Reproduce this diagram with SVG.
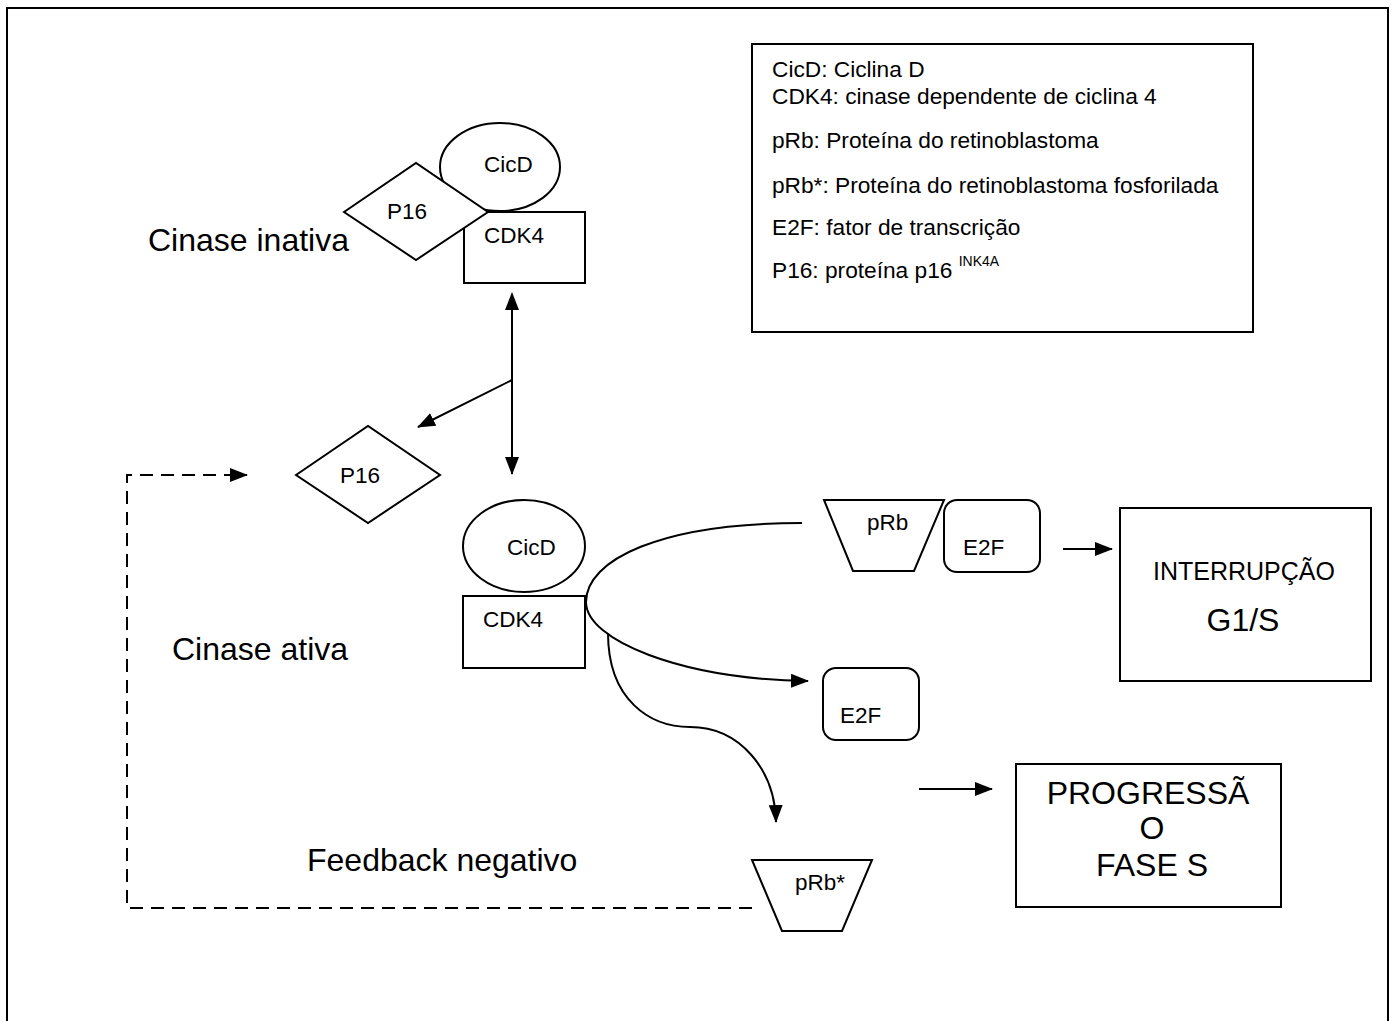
<svg xmlns="http://www.w3.org/2000/svg" width="1395" height="1021" viewBox="0 0 1395 1021">
<defs>
<marker id="ah" markerWidth="18" markerHeight="14" refX="17" refY="7" orient="auto" markerUnits="userSpaceOnUse">
<path d="M0,0 L18,7 L0,14 Z" fill="#000"/>
</marker>
<marker id="ahs" markerWidth="18" markerHeight="14" refX="1" refY="7" orient="auto-start-reverse" markerUnits="userSpaceOnUse">
<path d="M0,0 L18,7 L0,14 Z" fill="#000"/>
</marker>
</defs>
<style>
.s{fill:#fff;stroke:#000;stroke-width:2}
.t{font-family:"Liberation Sans",Arial,sans-serif;font-size:22.5px;fill:#000}
.lg{font-family:"Liberation Sans",Arial,sans-serif;font-size:22.7px;fill:#000}
.big{font-family:"Liberation Sans",Arial,sans-serif;font-size:32px;fill:#000}
.c{fill:none;stroke:#000;stroke-width:2}
</style>
<rect x="0" y="0" width="1395" height="1021" fill="#fff"/>
<rect x="7" y="8" width="1381" height="1040" fill="none" stroke="#000" stroke-width="2"/>

<g id="legend">
<rect class="s" x="752" y="44" width="501" height="288"/>
<text class="lg" x="772" y="77">CicD: Ciclina D</text>
<text class="lg" x="772" y="104">CDK4: cinase dependente de ciclina 4</text>
<text class="lg" x="772" y="148">pRb: Proteína do retinoblastoma</text>
<text class="lg" x="772" y="193">pRb*: Proteína do retinoblastoma fosforilada</text>
<text class="lg" x="772" y="235">E2F: fator de transcrição</text>
<text class="lg" x="772" y="278">P16: proteína p16 <tspan style="font-size:14px" dy="-12">INK4A</tspan></text>
</g>

<g id="label-inativa"><text class="big" x="148" y="251">Cinase inativa</text></g>
<g id="label-ativa"><text class="big" x="172" y="660">Cinase ativa</text></g>
<g id="label-feedback"><text class="big" x="307" y="871">Feedback negativo</text></g>

<g id="cicd-top">
<ellipse class="s" cx="500" cy="167" rx="60" ry="44"/>
<text class="t" x="484" y="172">CicD</text>
</g>
<g id="cdk4-top">
<rect class="s" x="464" y="212" width="121" height="71"/>
<text class="t" x="484" y="243">CDK4</text>
</g>
<g id="p16-top">
<polygon class="s" points="344,212 416,163 488,212 416,260"/>
<text class="t" x="387" y="219">P16</text>
</g>

<g id="p16-mid">
<polygon class="s" points="296,475 368,426 440,475 368,523"/>
<text class="t" x="340" y="483">P16</text>
</g>

<g id="cicd-mid">
<ellipse class="s" cx="524" cy="546" rx="61" ry="46"/>
<text class="t" x="507" y="555">CicD</text>
</g>
<g id="cdk4-mid">
<rect class="s" x="463" y="596" width="122" height="72"/>
<text class="t" x="483" y="627">CDK4</text>
</g>

<g id="prb">
<polygon class="s" points="824,500 944,500 914,571 853,571"/>
<text class="t" x="867" y="530">pRb</text>
</g>
<g id="e2f-1">
<rect class="s" x="944" y="500" width="96" height="72" rx="13"/>
<text class="t" x="963" y="555">E2F</text>
</g>
<g id="e2f-2">
<rect class="s" x="823" y="668" width="96" height="72" rx="13"/>
<text class="t" x="840" y="723">E2F</text>
</g>
<g id="prbstar">
<polygon class="s" points="752,860 872,860 842,931 782,931"/>
<text class="t" x="795" y="890">pRb*</text>
</g>

<g id="interrupcao">
<rect class="s" x="1120" y="508" width="251" height="173"/>
<text class="t" x="1244" y="580" text-anchor="middle" style="font-size:25px">INTERRUPÇÃO</text>
<text class="t" x="1243" y="631" text-anchor="middle" style="font-size:32px">G1/S</text>
</g>
<g id="progressao">
<rect class="s" x="1016" y="764" width="265" height="143"/>
<text class="big" x="1148" y="804" text-anchor="middle">PROGRESSÃ</text>
<text class="big" x="1152" y="839" text-anchor="middle">O</text>
<text class="big" x="1152" y="876" text-anchor="middle">FASE S</text>
</g>

<g id="connectors">
<line class="c" x1="512" y1="309" x2="512" y2="474" marker-start="url(#ahs)" marker-end="url(#ah)"/>
<line class="c" x1="512" y1="380" x2="418" y2="427" marker-end="url(#ah)"/>
<path class="c" d="M802,523 C660,523 586,560 586,602 C586,640 680,679 808,681" marker-end="url(#ah)"/>
<path class="c" d="M608,633 C608,700 650,727 690,727 C740,727 775,770 776,822" marker-end="url(#ah)"/>
<line class="c" x1="1063" y1="549" x2="1112" y2="549" marker-end="url(#ah)"/>
<line class="c" x1="919" y1="789" x2="992" y2="789" marker-end="url(#ah)"/>
<path class="c" d="M752,908 L127,908 L127,475 L247,475" stroke-dasharray="13,8" marker-end="url(#ah)"/>
</g>
</svg>
